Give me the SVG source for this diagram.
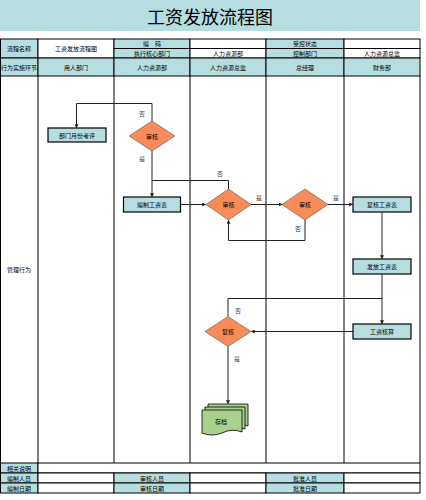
<svg xmlns="http://www.w3.org/2000/svg" width="426" height="500" viewBox="0 0 426 500">
<defs>
<style>
.t{font-family:"Noto Sans CJK SC","Liberation Sans",sans-serif;font-size:6px;fill:#000;text-anchor:middle;dominant-baseline:central}
.lbl{font-family:"Noto Sans CJK SC","Liberation Sans",sans-serif;font-size:6px;fill:#444;text-anchor:middle;dominant-baseline:central}
.h{fill:#b6dee1;stroke:#000;stroke-width:1}
.w{fill:#fff;stroke:#000;stroke-width:1}
.grid{stroke:#000;stroke-width:1;fill:none}
.box{fill:#b6dee1;stroke:#000;stroke-width:1.2}
.dia{fill:#f98b58;stroke:#555;stroke-width:0.6}
.doc{fill:#a9d18e;stroke:#000;stroke-width:0.8}
.c{stroke:#222;stroke-width:1;fill:none}
</style>
<marker id="a" viewBox="0 0 6 6" refX="5" refY="3" markerWidth="4" markerHeight="4" orient="auto"><path d="M0,0 L6,3 L0,6 z" fill="#222"/></marker>
</defs>
<rect width="426" height="500" fill="#fff"/>
<g id="title">
<rect x="0" y="0" width="420" height="31" fill="#b6dee1"/>
<text x="210" y="16" class="t" style="font-size:18px">工资发放流程图</text>
</g>
<g id="header">
<rect class="h" x="0.5" y="39" width="37.5" height="19"/>
<text class="t" x="19" y="48.5">流程名称</text>
<rect class="w" x="38" y="39" width="76" height="19"/>
<text class="t" x="76" y="48.5">工资发放流程图</text>
<rect class="h" x="114" y="39" width="76" height="9.5"/>
<text class="t" x="152" y="43.8">编　码</text>
<rect class="w" x="190" y="39" width="76" height="9.5"/>
<rect class="h" x="266" y="39" width="78" height="9.5"/>
<text class="t" x="305" y="43.8">受控状态</text>
<rect class="w" x="344" y="39" width="76" height="9.5"/>
<rect class="h" x="114" y="48.5" width="76" height="9.5"/>
<text class="t" x="152" y="53.3">执行核心部门</text>
<rect class="w" x="190" y="48.5" width="76" height="9.5"/>
<text class="t" x="228" y="53.3">人力资源部</text>
<rect class="h" x="266" y="48.5" width="78" height="9.5"/>
<text class="t" x="305" y="53.3">控制部门</text>
<rect class="w" x="344" y="48.5" width="76" height="9.5"/>
<text class="t" x="382" y="53.3">人力资源总监</text>
<rect class="h" x="0.5" y="58" width="37.5" height="18"/>
<text class="t" x="19" y="67">行为实施环节</text>
<rect class="h" x="38" y="58" width="76" height="18"/>
<text class="t" x="76" y="67">用人部门</text>
<rect class="h" x="114" y="58" width="76" height="18"/>
<text class="t" x="152" y="67">人力资源部</text>
<rect class="h" x="190" y="58" width="76" height="18"/>
<text class="t" x="228" y="67">人力资源总监</text>
<rect class="h" x="266" y="58" width="78" height="18"/>
<text class="t" x="305" y="67">总经理</text>
<rect class="h" x="344" y="58" width="76" height="18"/>
<text class="t" x="382" y="67">财务部</text>
</g>
<g id="lanes">
<path class="grid" d="M0.5,76 V463 M38,76 V463 M114,76 V463 M190,76 V463 M266,76 V463 M344,76 V463 M420,76 V463"/>
<text class="t" x="19" y="269">管理行为</text>
</g>
<g id="footer">
<rect class="h" x="0.5" y="463" width="37.5" height="10"/>
<text class="t" x="19" y="468">相关说明</text>
<rect class="w" x="38" y="463" width="382" height="10"/>
<rect class="h" x="0.5" y="473" width="37.5" height="10"/>
<text class="t" x="19" y="478">编制人员</text>
<rect class="w" x="38" y="473" width="76" height="10"/>
<rect class="h" x="114" y="473" width="76" height="10"/>
<text class="t" x="152" y="478">审核人员</text>
<rect class="w" x="190" y="473" width="76" height="10"/>
<rect class="h" x="266" y="473" width="78" height="10"/>
<text class="t" x="305" y="478">批准人员</text>
<rect class="w" x="344" y="473" width="76" height="10"/>
<rect class="h" x="0.5" y="483" width="37.5" height="10"/>
<text class="t" x="19" y="488">编制日期</text>
<rect class="w" x="38" y="483" width="76" height="10"/>
<rect class="h" x="114" y="483" width="76" height="10"/>
<text class="t" x="152" y="488">审核日期</text>
<rect class="w" x="190" y="483" width="76" height="10"/>
<rect class="h" x="266" y="483" width="78" height="10"/>
<text class="t" x="305" y="488">批准日期</text>
<rect class="w" x="344" y="483" width="76" height="10"/>
</g>
<g id="connectors">
<path class="c" d="M152,121 V103.5 H76.5 V127.5" marker-end="url(#a)"/>
<path class="c" d="M152,151 V196.5" marker-end="url(#a)"/>
<path class="c" d="M228.5,189 V180.5 H152"/>
<path class="c" d="M180.5,204.5 H205.5" marker-end="url(#a)"/>
<path class="c" d="M251,204.5 H282" marker-end="url(#a)"/>
<path class="c" d="M305,220 V240.5 H228.5 V220.5" marker-end="url(#a)"/>
<path class="c" d="M328,204.5 H352.5" marker-end="url(#a)"/>
<path class="c" d="M382,212.5 V258.5" marker-end="url(#a)"/>
<path class="c" d="M382,274.5 V323.5" marker-end="url(#a)"/>
<path class="c" d="M228,316.5 V298.5 H382"/>
<path class="c" d="M353,331.5 H251.5" marker-end="url(#a)"/>
<path class="c" d="M228,346.5 V403.5" marker-end="url(#a)"/>
<text class="lbl" x="142" y="113">否</text>
<text class="lbl" x="142" y="158">是</text>
<text class="lbl" x="220" y="173">否</text>
<text class="lbl" x="259" y="197">是</text>
<text class="lbl" x="298" y="228">否</text>
<text class="lbl" x="336" y="197">是</text>
<text class="lbl" x="238" y="310">否</text>
<text class="lbl" x="237" y="358">是</text>
</g>
<g id="n1"><rect class="box" x="48" y="128" width="58" height="14"/><text class="t" x="77" y="135">部门月份考评</text></g>
<g id="n2"><path class="dia" d="M152,121 L175,136 L152,151 L129,136 Z"/><text class="t" x="152" y="136">审核</text></g>
<g id="n3"><rect class="box" x="123.5" y="197" width="57" height="15"/><text class="t" x="152" y="204.5">编制工资表</text></g>
<g id="n4"><path class="dia" d="M228.5,189 L251,204.5 L228.5,220 L206,204.5 Z"/><text class="t" x="228.5" y="204.5">审核</text></g>
<g id="n5"><path class="dia" d="M305,189 L328,204.5 L305,220 L282,204.5 Z"/><text class="t" x="305" y="204.5">审核</text></g>
<g id="n6"><rect class="box" x="353" y="197" width="58" height="15"/><text class="t" x="382" y="204.5">复核工资表</text></g>
<g id="n7"><rect class="box" x="353" y="259" width="58" height="15"/><text class="t" x="382" y="266.5">发放工资表</text></g>
<g id="n8"><rect class="box" x="353" y="324" width="58" height="15"/><text class="t" x="382" y="331.5">工资核算</text></g>
<g id="n9"><path class="dia" d="M228,316.5 L251,331.5 L228,346.5 L205,331.5 Z"/><text class="t" x="228" y="331.5">复核</text></g>
<g id="n10">
<path class="doc" d="M208,404 H248 V426 Q238,422 228,427 Q218,431 208,427 Z"/>
<path class="doc" d="M205,407 H245 V429 Q235,425 225,430 Q215,434 205,430 Z"/>
<path class="doc" d="M202,410 H242 V432 Q232,428 222,433 Q212,437 202,433 Z"/>
<text class="t" x="221" y="421">存档</text>
</g>
</svg>
